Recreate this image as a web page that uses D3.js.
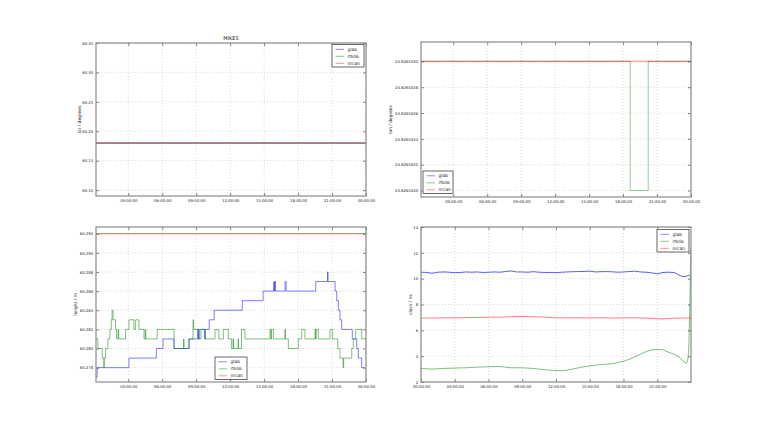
<!DOCTYPE html>
<html><head><meta charset="utf-8">
<script src="https://cdn.jsdelivr.net/npm/d3@7"></script>
<style>
html,body{margin:0;padding:0;background:#fff;}
svg{display:block;font-family:"DejaVu Sans",sans-serif;}
</style></head>
<body><svg id="chart" width="768" height="425"></svg>
<script>
// ---------------- data ----------------
const seriesNames = ["glab", "rtklib", "nrcan"];
const seriesColors = ["#0000ff", "#008000", "#ff0000"];
const titleText = "MIKES";

const xTickHours = [3, 6, 9, 12, 15, 18, 21, 24];
const xTickHoursClock = [0, 3, 6, 9, 12, 15, 18, 21];

// latitude (degrees)
const latTimes = [0.15, 24];
const latGlab = [60.18, 60.18];
const latRtklib = [60.18, 60.18];
const latNrcan = [60.18, 60.18];
const latTicks = [60.10, 60.15, 60.20, 60.25, 60.30, 60.35];

// longitude (degrees)
const lonGlabTimes = [];
const lonGlab = [];
const lonRtklibTimes = [0.15, 18.63, 20.22, 24];
const lonRtklib = [24.826533, 24.826532, 24.826533, 24.826533];
const lonNrcanTimes = [0.15, 24];
const lonNrcan = [24.826533, 24.826533];
const lonTicks = [24.826532, 24.8265322, 24.8265324, 24.8265326, 24.8265328, 24.826533];

// height (m), step series
const hgtGlabTimes = [0.15, 0.25, 3.06, 5.48, 6.07, 7.04, 8.4, 9.13, 9.2, 9.28, 9.75, 9.8, 10.15, 10.59, 13.07, 14.91,
  15.85, 15.9, 15.95, 16.0, 16.85, 16.95, 19.56, 20.6, 20.65, 21.27, 21.41, 21.56, 21.7, 21.85, 22.79, 23.18, 23.32, 23.62, 23.85];
const hgtGlab = [60.277, 60.278, 60.279, 60.280, 60.281, 60.280, 60.281, 60.282, 60.281, 60.282, 60.281, 60.282, 60.283, 60.284, 60.285, 60.286,
  60.287, 60.286, 60.287, 60.286, 60.287, 60.286, 60.287, 60.288, 60.287, 60.286, 60.285, 60.284, 60.283, 60.282, 60.281, 60.280, 60.279, 60.278, 60.278];
const hgtRtklibTimes = [0.15, 0.32, 0.7, 0.84, 0.88, 1.0, 1.2, 1.38, 1.5, 1.57, 1.65, 1.88, 1.97, 2.1, 2.16, 2.76, 3.06, 3.5, 3.65, 3.94,
  4.39, 4.5, 4.55, 5.56, 7.04, 7.88, 7.93, 8.3, 8.72, 8.78, 9.19, 9.42, 9.78, 10.66, 11.0, 11.4, 11.84, 12.13, 12.26, 12.3, 12.7, 12.74,
  13.0, 13.31, 15.52, 15.6, 15.66, 15.82, 16.84, 16.88, 17.14, 18.02, 18.32, 18.61, 19.5, 19.55, 19.6, 19.79, 20.82, 21.03, 21.5, 21.7,
  21.98, 22.03, 22.74, 22.88, 23.09, 23.62, 24.0];
const hgtRtklib = [60.281, 60.280, 60.279, 60.278, 60.279, 60.280, 60.281, 60.282, 60.283, 60.284, 60.283, 60.282, 60.281, 60.282, 60.281, 60.282, 60.283, 60.282, 60.283, 60.282,
  60.281, 60.282, 60.281, 60.282, 60.280, 60.281, 60.280, 60.281, 60.283, 60.282, 60.281, 60.282, 60.281, 60.282, 60.281, 60.282, 60.281, 60.280, 60.281, 60.280, 60.281, 60.280,
  60.282, 60.281, 60.282, 60.281, 60.282, 60.281, 60.282, 60.281, 60.280, 60.281, 60.282, 60.281, 60.282, 60.281, 60.282, 60.281, 60.282, 60.281, 60.280, 60.279,
  60.278, 60.279, 60.280, 60.281, 60.282, 60.281, 60.281];
const hgtNrcanTimes = [0.15, 24];
const hgtNrcan = [60.292, 60.292];
const hgtTicks = [60.278, 60.280, 60.282, 60.284, 60.286, 60.288, 60.290, 60.292];

// clock (ns)
const clkGlabTimes = [0, 0.5, 1, 1.5, 2, 2.5, 3, 3.5, 4, 4.5, 5, 5.5, 6, 6.5, 7, 7.5, 8, 8.5, 9, 9.5, 10, 10.5, 11, 11.5, 12, 12.5,
  13, 13.5, 14, 14.5, 15, 15.5, 16, 16.5, 17, 17.5, 18, 18.5, 19, 19.5, 20, 20.5, 21, 21.5, 22, 22.5, 23, 23.3, 23.6, 23.8, 23.9];
const clkGlab = [10.50, 10.48, 10.42, 10.50, 10.52, 10.50, 10.46, 10.48, 10.52, 10.50, 10.52, 10.48, 10.50, 10.52, 10.50, 10.55, 10.60, 10.52, 10.52, 10.50, 10.54, 10.50, 10.48, 10.48, 10.46, 10.50,
  10.52, 10.54, 10.55, 10.56, 10.58, 10.52, 10.54, 10.55, 10.53, 10.50, 10.52, 10.55, 10.58, 10.52, 10.50, 10.45, 10.38, 10.48, 10.50, 10.48, 10.25, 10.15, 10.20, 10.25, 10.22];
const clkRtklibTimes = [0, 0.5, 1, 2, 3, 4, 5, 6, 7, 7.5, 8, 9, 10, 11, 12, 12.5, 13, 13.5, 14, 15, 16, 17, 18, 18.5, 19, 19.5, 20, 20.5, 21, 21.5,
  22, 22.5, 23, 23.3, 23.5, 23.6, 23.7, 23.8, 23.9, 23.95, 24];
const clkRtklib = [3.05, 3.02, 3.0, 3.05, 3.08, 3.1, 3.15, 3.18, 3.2, 3.15, 3.1, 3.1, 3.05, 2.95, 2.88, 2.88, 2.92, 3.0, 3.1, 3.25, 3.35, 3.42, 3.6, 3.75, 3.95, 4.15, 4.35, 4.48, 4.52, 4.5,
  4.3, 4.15, 3.9, 3.6, 3.5, 3.45, 3.6, 4.5, 8.0, 11.0, 12.4];
const clkNrcanTimes = [0, 1, 2, 3, 4, 5, 6, 7, 8, 9, 10, 11, 12, 13, 14, 15, 16, 17, 18, 19, 20, 21, 21.5, 22, 23, 24];
const clkNrcan = [6.95, 6.95, 6.97, 6.97, 6.98, 7.0, 7.02, 7.02, 7.05, 7.07, 7.05, 7.03, 6.96, 6.97, 6.97, 6.96, 6.97, 6.96, 6.96, 6.97, 6.95, 6.9, 6.88, 6.93, 6.95, 6.95];
const clkTicks = [2, 4, 6, 8, 10, 12, 14];

// ---------------- drawing ----------------
const svg = d3.select("#chart");
const pad2 = n => String(n).padStart(2, "0");
const fmtHour = h => pad2(h % 24) + ":00:00";
const zip = (t, v) => t.map((x, i) => [x, v[i]]);
const TICK_FONT = 3.85;

function panel(cfg) {
  const g = svg.append("g").attr("transform", `translate(${cfg.left},${cfg.top})`);
  const w = cfg.width, h = cfg.height;
  const x = d3.scaleLinear().domain(cfg.xDomain).range([0, w]);
  const y = d3.scaleLinear().domain(cfg.yDomain).range([h, 0]);

  // grid
  const grid = g.append("g").attr("stroke", "#000").attr("stroke-opacity", 0.3)
    .attr("stroke-width", 0.5).attr("stroke-dasharray", "1,2");
  cfg.xTicks.forEach(t => grid.append("line").attr("x1", x(t)).attr("x2", x(t)).attr("y1", 0).attr("y2", h));
  cfg.yTicks.forEach(t => grid.append("line").attr("x1", 0).attr("x2", w).attr("y1", y(t)).attr("y2", y(t)));

  // lines
  const clip = "clip" + cfg.id;
  g.append("clipPath").attr("id", clip).append("rect").attr("width", w).attr("height", h);
  const lines = g.append("g").attr("clip-path", `url(#${clip})`);
  cfg.series.forEach((s, i) => {
    if (!s.t.length) return;
    const line = d3.line().x(d => x(d[0])).y(d => y(d[1])).curve(cfg.step ? d3.curveStepAfter : d3.curveLinear);
    lines.append("path").datum(zip(s.t, s.v)).attr("d", line).attr("fill", "none")
      .attr("stroke", seriesColors[i]).attr("stroke-width", s.width || 1)
      .attr("stroke-opacity", s.opacity || 0.5);
  });

  // axes with inward ticks
  const xAxis = d3.axisBottom(x).tickValues(cfg.xTicks).tickFormat(fmtHour).tickSizeInner(-3).tickSizeOuter(0).tickPadding(3);
  const yAxis = d3.axisLeft(y).tickValues(cfg.yTicks).tickFormat(d3.format(cfg.yFormat)).tickSizeInner(-3).tickSizeOuter(0).tickPadding(2.8);
  const ax = g.append("g").attr("transform", `translate(0,${h})`).call(xAxis);
  const ay = g.append("g").call(yAxis);
  const axT = g.append("g").call(d3.axisTop(x).tickValues(cfg.xTicks).tickFormat("").tickSizeInner(-3).tickSizeOuter(0));
  const ayR = g.append("g").attr("transform", `translate(${w},0)`).call(d3.axisRight(y).tickValues(cfg.yTicks).tickFormat("").tickSizeInner(-3).tickSizeOuter(0));
  [ax, ay, axT, ayR].forEach(a => {
    a.select(".domain").remove();
    a.selectAll("line").attr("stroke", "#333").attr("stroke-width", 0.6);
    a.selectAll("text").attr("font-size", TICK_FONT).attr("fill", "#222").attr("font-family", "DejaVu Sans");
  });

  // frame
  g.append("rect").attr("width", w).attr("height", h).attr("fill", "none").attr("stroke", "#8a8a8a").attr("stroke-width", 1.2);

  // y label
  g.append("text").attr("transform", `translate(${cfg.ylabelX},${h / 2}) rotate(-90)`)
    .attr("text-anchor", "middle").attr("font-size", 4.4).attr("fill", "#222").text(cfg.ylabel);

  if (cfg.title) {
    g.append("text").attr("x", w / 2).attr("y", -3.5).attr("text-anchor", "middle")
      .attr("font-size", 5).attr("fill", "#222").text(cfg.title);
  }

  // legend
  const L = cfg.legend;
  const lg = g.append("g").attr("transform", `translate(${L.x},${L.y})`);
  lg.append("rect").attr("width", L.w).attr("height", 22.5).attr("fill", "#fff").attr("stroke", "#444").attr("stroke-width", 0.8);
  seriesNames.forEach((n, i) => {
    const yy = 4.8 + i * 7;
    lg.append("line").attr("x1", 3.5).attr("x2", 12).attr("y1", yy).attr("y2", yy)
      .attr("stroke", seriesColors[i]).attr("stroke-opacity", 0.45).attr("stroke-width", 1);
    lg.append("text").attr("x", 15.5).attr("y", yy + 1.5).attr("font-size", 4.4).attr("fill", "#222").text(n);
  });
}

panel({
  id: "lat", left: 96, top: 43, width: 270, height: 153,
  xDomain: [0.15, 24], yDomain: [60.09, 60.35], xTicks: xTickHours, yTicks: latTicks, yFormat: ".2f",
  ylabel: "lat / degrees", ylabelX: -15.3, title: titleText,
  series: [{t: latTimes, v: latGlab}, {t: latTimes, v: latRtklib}, {t: latTimes, v: latNrcan}],
  legend: {x: 236, y: 1.5, w: 32}
});

panel({
  id: "lon", left: 421, top: 42, width: 270, height: 155,
  xDomain: [0.15, 24], yDomain: [24.82653195, 24.82653315], xTicks: xTickHours, yTicks: lonTicks, yFormat: ".7f",
  ylabel: "lon / degrees", ylabelX: -29.5, step: true,
  series: [{t: lonGlabTimes, v: lonGlab}, {t: lonRtklibTimes, v: lonRtklib, opacity: 0.4},
           {t: lonNrcanTimes, v: lonNrcan, width: 1.6, opacity: 0.3}],
  legend: {x: 2, y: 129, w: 30}
});

panel({
  id: "hgt", left: 96, top: 227, width: 270, height: 155,
  xDomain: [0.15, 24], yDomain: [60.2765, 60.2927], xTicks: xTickHours, yTicks: hgtTicks, yFormat: ".3f",
  ylabel: "height / m", ylabelX: -19.3, step: true,
  series: [{t: hgtGlabTimes, v: hgtGlab}, {t: hgtRtklibTimes, v: hgtRtklib}, {t: hgtNrcanTimes, v: hgtNrcan, opacity: 0.65}],
  legend: {x: 119, y: 130, w: 32}
});

panel({
  id: "clk", left: 421, top: 227, width: 270, height: 155,
  xDomain: [0, 24], yDomain: [2, 14], xTicks: xTickHoursClock, yTicks: clkTicks, yFormat: "d",
  ylabel: "clock / ns", ylabelX: -9.5,
  series: [{t: clkGlabTimes, v: clkGlab, opacity: 0.65}, {t: clkRtklibTimes, v: clkRtklib}, {t: clkNrcanTimes, v: clkNrcan}],
  legend: {x: 236, y: 2.5, w: 32}
});
</script>
</body></html>
